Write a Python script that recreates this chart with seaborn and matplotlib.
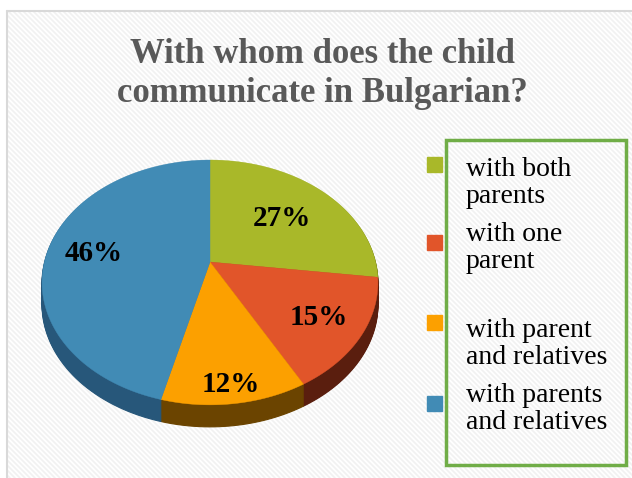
import numpy as np
import matplotlib
matplotlib.use("Agg")
import matplotlib.pyplot as plt
import seaborn as sns
from matplotlib.patches import Rectangle, Polygon

sns.set_theme(style="white")
plt.rcParams['font.family'] = ['Liberation Serif', 'DejaVu Serif']

# ---- data ----
title = "With whom does the child\ncommunicate in Bulgarian?"
categories = ["with both\nparents", "with one\nparent", "with parent\nand relatives",
              "with parents\nand relatives"]
values = [27, 15, 12, 46]
top_colors = ["#A9B829", "#E1552A", "#FCA000", "#418BB5"]
side_colors = ["#5A6210", "#5A1E0E", "#6B4400", "#27577A"]

W, H = 632, 478
fig = plt.figure(figsize=(W / 100, H / 100), dpi=100)
fig.patch.set_facecolor("white")

# background (pixel coordinates) with faint diagonal stripes and grey frame
bg = fig.add_axes([0, 0, 1, 1])
bg.set_xlim(0, W)
bg.set_ylim(H, 0)
bg.axis("off")
for s in np.arange(-H, W + H, 5):
    bg.plot([s, s + H], [0, H], color="#F1F1F1", lw=1.2, zorder=0)
bg.add_patch(Rectangle((0, 0), 6, H, color="white", zorder=1))
bg.add_patch(Rectangle((0, 0), W, 10, color="white", zorder=1))
bg.plot([6.5, 6.5], [10.5, H], color="#D9D9D9", lw=1.5, zorder=2)
bg.plot([6.5, W], [10.5, 10.5], color="#D9D9D9", lw=1.5, zorder=2)

# pie geometry from matplotlib's pie on a helper axes, then projected (tilted view)
pax = fig.add_axes([0, 0, 0.01, 0.01])
wedges, _ = pax.pie(values, colors=top_colors, startangle=90, counterclock=False,
                    center=(0, 0), radius=1.0)
cx, cy, rx, ry, e, depth = 210, 262, 165.6, 119, 0.167, 22


def project(x, y):
    s = 1.0 / (1.0 + e * y)
    return cx + rx * x * s, cy - ry * y * s


polys = []
tt = np.linspace(0, 1, 25)
for w in wedges:
    path = w.get_patch_transform().transform_path(w.get_path())
    pts = []
    for seg, code in path.iter_bezier():
        pts.append(seg(tt))
    pts = np.vstack(pts)
    X, Y = project(pts[:, 0], pts[:, 1])
    polys.append(np.column_stack([X, Y]))
pax.remove()

# side (depth) layers
for d in np.arange(depth, 0, -1):
    for p, c in zip(polys, side_colors):
        bg.add_patch(Polygon(p + [0, d], closed=True, facecolor=c, edgecolor=c,
                             lw=0.8, zorder=3))
# top surface
for p, c in zip(polys, top_colors):
    bg.add_patch(Polygon(p, closed=True, facecolor=c, edgecolor=c, lw=0.3, zorder=4))

# percentage labels
label_r = [0.62, 0.74, 0.87, 0.72]
ang = 90.0
for v, r in zip(values, label_r):
    mid = np.radians(ang - v / 2 * 3.6)
    ang -= v * 3.6
    X, Y = project(r * np.cos(mid), r * np.sin(mid))
    bg.text(X, Y + 2, f"{v}%", ha="center", va="center", fontsize=21,
            fontweight="bold", color="black", zorder=6)

# title
fig.text(322 / W, 1 - 74 / H, title, ha="center", va="center", fontsize=25,
         fontweight="bold", color="#595959", linespacing=1.24)

# legend (manual, Excel-like)
bg.add_patch(Rectangle((446, 140), 180, 325, fill=False, edgecolor="#70AD47",
                       lw=2.5, zorder=5))
marker_y = [164, 242, 322, 403]
text_y = [183, 248, 344, 409]
for lab, c, my, ty in zip(categories, top_colors, marker_y, text_y):
    bg.add_patch(Rectangle((427, my - 7.5), 15, 15, color=c, zorder=5))
    bg.text(466, ty, lab, ha="left", va="center", fontsize=20, color="black",
            linespacing=1.13, zorder=6)

fig.savefig("out.png", dpi=100)
